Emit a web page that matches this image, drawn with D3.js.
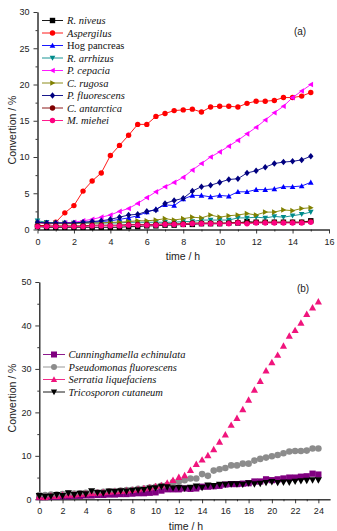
<!DOCTYPE html>
<html><head><meta charset="utf-8">
<script src="https://cdn.jsdelivr.net/npm/d3@7"></script>
<style>body{margin:0;background:#fff}svg{display:block}</style>
</head><body>
<script>
// ---------- DATA ----------
const timeA = [0,0.5,1,1.5,2,2.5,3,3.5,4,4.5,5,5.5,6,6.5,7,7.5,8,8.5,9,9.5,10,10.5,11,11.5,12,12.5,13,13.5,14,14.5,15];
const seriesNamesA = ["R. niveus","Aspergilus","Hog pancreas","R. arrhizus","P. cepacia","C. rugosa","P. fluorescens","C. antarctica","M. miehei"];
const rNiveus     = [0.4,0.3,0.3,0.3,0.3,0.3,0.3,0.3,0.3,0.3,0.4,0.4,0.5,0.5,0.6,0.6,0.7,0.7,0.8,0.8,0.8,0.9,0.9,1.1,1.0,1.0,1.0,1.0,1.0,1.0,1.2];
const aspergilus  = [0.5,0.6,1.0,2.3,3.3,5.3,6.7,7.8,10.2,11.6,13.0,14.5,14.5,15.6,16.0,16.4,16.5,16.6,16.2,16.9,17.0,17.0,16.9,17.4,17.7,17.7,17.8,18.2,18.2,18.4,18.9];
const hogPancreas = [1.0,0.9,0.9,0.9,0.9,1.0,1.0,1.1,1.2,1.4,1.6,1.9,2.4,2.8,3.4,3.3,4.2,4.7,4.7,4.5,4.7,4.6,5.2,5.2,5.5,5.5,5.6,5.9,5.9,6.0,6.5];
const rArrhizus   = [1.2,1.0,0.9,0.9,0.9,0.9,0.9,0.9,0.9,0.9,1.0,1.0,1.0,1.0,1.0,1.0,1.1,1.1,1.3,1.3,1.3,1.3,1.6,1.6,1.7,1.6,1.8,1.7,1.9,2.1,2.4];
const pCepacia    = [0.9,0.8,0.8,0.9,1.0,1.2,1.4,1.7,2.0,2.5,2.9,3.6,4.4,5.2,5.9,6.5,7.2,8.2,9.1,10.0,10.7,11.5,12.3,13.2,14.1,15.1,16.1,17.0,18.2,19.1,20.0];
const cRugosa     = [0.9,0.9,0.8,0.8,0.8,0.9,0.9,0.9,1.0,1.0,1.1,1.2,1.2,1.3,1.5,1.3,1.5,1.7,1.6,2.0,1.7,1.9,2.0,2.2,2.0,2.4,2.4,2.7,2.6,2.9,3.0];
const pFluorescA  = [1.0,0.9,0.9,0.9,0.9,1.0,1.1,1.2,1.4,1.7,2.0,2.1,2.5,2.7,3.6,4.0,4.3,5.3,5.9,6.1,6.5,6.9,7.0,7.8,8.1,8.6,9.1,9.3,9.4,9.6,10.1];
const cAntarctica = [0.5,0.5,0.5,0.5,0.5,0.5,0.6,0.6,0.6,0.6,0.7,0.7,0.7,0.7,0.8,0.8,0.8,0.9,0.9,0.9,0.9,0.9,1.0,0.9,1.0,1.0,1.0,1.0,1.0,1.0,1.1];
const mMiehei     = [0.4,0.4,0.4,0.4,0.4,0.4,0.5,0.5,0.5,0.5,0.6,0.6,0.6,0.6,0.7,0.7,0.7,0.8,0.8,0.8,0.8,0.8,0.9,0.8,0.9,0.9,0.9,0.9,0.9,0.9,1.0];
const xTicksA = [0,2,4,6,8,10,12,14,16];
const yTicksA = [0,5,10,15,20,25,30];

const timeB = [0,0.5,1,1.5,2,2.5,3,3.5,4,4.5,5,5.5,6,6.5,7,7.5,8,8.5,9,9.5,10,10.5,11,11.5,12,12.5,13,13.5,14,14.5,15,15.5,16,16.5,17,17.5,18,18.5,19,19.5,20,20.5,21,21.5,22,22.5,23,23.5,24];
const seriesNamesB = ["Cunninghamella echinulata","Pseudomonas fluorescens","Serratia liquefaciens","Tricosporon cutaneum"];
const cunninghamella = [0.5,0.5,0.6,0.6,0.7,0.7,0.8,0.8,0.9,0.9,1.0,1.0,1.1,1.1,1.2,1.2,1.3,1.4,1.4,1.5,1.6,2.0,2.3,2.3,2.3,2.5,2.4,2.5,2.9,2.9,3.0,3.1,3.4,3.5,3.5,3.6,3.7,4.1,4.1,4.6,4.4,4.6,4.8,5.0,5.0,5.2,5.3,5.9,5.7];
const pseudomonas    = [1.0,1.0,1.1,1.1,1.2,1.3,1.3,1.4,1.5,1.6,1.6,1.7,1.8,1.9,2.0,2.1,2.2,2.4,2.5,2.7,2.9,3.1,3.3,3.9,4.1,4.4,4.8,4.8,5.8,5.4,6.6,6.9,7.2,7.8,7.8,8.2,8.2,8.9,9.3,9.6,9.9,10.2,10.6,11.0,11.1,11.1,11.2,11.7,11.7];
const serratia       = [0.6,0.5,0.8,0.7,1.0,1.0,1.1,1.2,1.3,1.4,1.5,1.6,1.7,1.8,1.9,2.0,2.1,2.3,2.5,2.7,3.0,3.2,3.8,4.4,5.1,5.5,6.7,8.1,9.1,10.1,11.5,13.2,14.9,17.1,18.7,20.7,22.9,25.2,27.2,29.6,31.5,33.2,35.3,37.6,38.9,40.6,42.6,44.1,45.5];
const tricosporon    = [0.8,0.6,0.7,1.0,0.8,1.4,1.0,1.3,1.2,1.9,1.5,1.4,1.8,1.7,1.9,1.8,2.0,2.1,2.2,2.5,2.6,2.9,2.8,2.6,2.7,2.5,2.7,3.0,2.7,3.2,3.1,3.4,3.4,3.5,3.5,3.4,3.7,3.5,3.6,3.8,4.0,3.8,3.9,3.9,4.1,4.2,4.3,4.4,4.4];
const xTicksB = [0,2,4,6,8,10,12,14,16,18,20,22,24];
const yTicksB = [0,10,20,30,40,50];

// ---------- DRAW ----------
const W = 337, H = 531;
const svg = d3.select("body").append("svg").attr("width", W).attr("height", H);
const sans = "Liberation Sans, Arial, sans-serif";
const serif = "Liberation Serif, Times New Roman, serif";

function marker(g, shape, x, y, s, color) {
  let p;
  const r = s / 2;
  if (shape === "square") p = g.append("rect").attr("x", x - r).attr("y", y - r).attr("width", s).attr("height", s);
  else if (shape === "circle") p = g.append("circle").attr("cx", x).attr("cy", y).attr("r", r);
  else {
    let pts;
    const h = r * 1.05;
    if (shape === "up") pts = [[x, y - h], [x + h, y + h * 0.8], [x - h, y + h * 0.8]];
    else if (shape === "down") pts = [[x, y + h], [x + h, y - h * 0.8], [x - h, y - h * 0.8]];
    else if (shape === "left") pts = [[x - h, y], [x + h * 0.8, y - h], [x + h * 0.8, y + h]];
    else if (shape === "right") pts = [[x + h, y], [x - h * 0.8, y - h], [x - h * 0.8, y + h]];
    else if (shape === "diamond") pts = [[x, y - h * 1.15], [x + h * 0.95, y], [x, y + h * 1.15], [x - h * 0.95, y]];
    p = g.append("polygon").attr("points", pts.map(d => d.join(",")).join(" "));
  }
  p.attr("fill", color);
}

function axes(g, x, y, xTicks, yTicks, xMinor, yMinor) {
  const xa = g.append("g").attr("transform", `translate(0,${y.range()[0]})`)
    .call(d3.axisBottom(x).tickValues(xTicks).tickSize(4).tickSizeOuter(0).tickFormat(d3.format("d")));
  const xm = g.append("g").attr("transform", `translate(0,${y.range()[0]})`)
    .call(d3.axisBottom(x).tickValues(xMinor).tickSize(2).tickSizeOuter(0).tickFormat(""));
  const ya = g.append("g").attr("transform", `translate(${x.range()[0]},0)`)
    .call(d3.axisLeft(y).tickValues(yTicks).tickSize(4).tickSizeOuter(0).tickFormat(d3.format("d")));
  const ym = g.append("g").attr("transform", `translate(${x.range()[0]},0)`)
    .call(d3.axisLeft(y).tickValues(yMinor).tickSize(2).tickSizeOuter(0).tickFormat(""));
  [xa, xm, ya, ym].forEach(a => {
    a.selectAll("path,line").attr("stroke", "#222").attr("stroke-width", 0.9);
    a.selectAll("text").attr("font-family", sans).attr("font-size", 9).attr("fill", "#222");
  });
  xa.selectAll("text").attr("dy", "0.9em");
  ya.selectAll("text").attr("dx", "-0.1em");
}

// ---------- Chart (a) ----------
const xA = d3.scaleLinear().domain([0, 16]).range([37.5, 329]);
const yA = d3.scaleLinear().domain([0, 30]).range([229.5, 12]);
const gA = svg.append("g");
axes(gA, xA, yA, xTicksA, yTicksA, [1,3,5,7,9,11,13,15], [2.5,7.5,12.5,17.5,22.5,27.5]);

const seriesA = [
  {name: seriesNamesA[0], v: rNiveus, color: "#000000", shape: "square"},
  {name: seriesNamesA[1], v: aspergilus, color: "#ff0000", shape: "circle"},
  {name: seriesNamesA[2], v: hogPancreas, color: "#0000ff", shape: "up"},
  {name: seriesNamesA[3], v: rArrhizus, color: "#008b8b", shape: "down"},
  {name: seriesNamesA[4], v: pCepacia, color: "#ff00ff", shape: "left"},
  {name: seriesNamesA[5], v: cRugosa, color: "#808000", shape: "right"},
  {name: seriesNamesA[6], v: pFluorescA, color: "#000080", shape: "diamond"},
  {name: seriesNamesA[7], v: cAntarctica, color: "#800000", shape: "circle"},
  {name: seriesNamesA[8], v: mMiehei, color: "#ff0080", shape: "circle"}
];
const lineA = d3.line().x((d, i) => xA(timeA[i])).y(d => yA(d));
seriesA.forEach(s => {
  const g = gA.append("g");
  g.append("path").datum(s.v).attr("d", lineA).attr("fill", "none").attr("stroke", s.color).attr("stroke-width", 0.9);
  s.v.forEach((d, i) => marker(g, s.shape, xA(timeA[i]), yA(d), 5.4, s.color));
});
// legend (a)
seriesA.forEach((s, i) => {
  const y = 20.5 + i * 12.5;
  const g = gA.append("g");
  g.append("line").attr("x1", 42).attr("x2", 63).attr("y1", y).attr("y2", y).attr("stroke", s.color).attr("stroke-width", 0.9);
  marker(g, s.shape, 52.5, y, 5.4, s.color);
  g.append("text").attr("x", 67).attr("y", y + 3.5).attr("font-family", serif).attr("font-size", 10.5)
    .attr("font-style", s.name === "Hog pancreas" ? "normal" : "italic").attr("fill", "#111").text(s.name);
});
gA.append("text").attr("x", 300).attr("y", 35).attr("text-anchor", "middle").attr("font-family", sans).attr("font-size", 10).attr("fill", "#222").text("(a)");
gA.append("text").attr("x", 183).attr("y", 260).attr("text-anchor", "middle").attr("font-family", sans).attr("font-size", 10.5).attr("fill", "#222").text("time / h");
gA.append("text").attr("transform", "translate(16,130) rotate(-90)").attr("text-anchor", "middle").attr("font-family", sans).attr("font-size", 10.5).attr("fill", "#222").text("Convertion / %");

// ---------- Chart (b) ----------
const xB = d3.scaleLinear().domain([0, 25]).range([39.3, 330]);
const yB = d3.scaleLinear().domain([0, 50]).range([499.3, 282]);
const gB = svg.append("g");
axes(gB, xB, yB, xTicksB, yTicksB, [1,3,5,7,9,11,13,15,17,19,21,23], [5,15,25,35,45]);

const seriesB = [
  {name: seriesNamesB[0], v: cunninghamella, color: "#800080", shape: "square", size: 6.2},
  {name: seriesNamesB[1], v: pseudomonas, color: "#8c8c8c", shape: "circle", size: 6.6},
  {name: seriesNamesB[2], v: serratia, color: "#f0147c", shape: "up", size: 6.8},
  {name: seriesNamesB[3], v: tricosporon, color: "#000000", shape: "down", size: 6.8}
];
seriesB.forEach(s => {
  const g = gB.append("g");
  s.v.forEach((d, i) => marker(g, s.shape, xB(timeB[i]), yB(d), s.size, s.color));
});
seriesB.forEach((s, i) => {
  const y = 354.5 + i * 12.5;
  const g = gB.append("g");
  g.append("line").attr("x1", 43).attr("x2", 65).attr("y1", y).attr("y2", y).attr("stroke", s.color).attr("stroke-width", 0.9);
  marker(g, s.shape, 54, y, 6, s.color);
  g.append("text").attr("x", 68.5).attr("y", y + 3.5).attr("font-family", serif).attr("font-size", 10.5)
    .attr("font-style", "italic").attr("fill", "#111").text(s.name);
});
gB.append("text").attr("x", 303).attr("y", 292).attr("text-anchor", "middle").attr("font-family", sans).attr("font-size", 10).attr("fill", "#222").text("(b)");
gB.append("text").attr("x", 186).attr("y", 530).attr("text-anchor", "middle").attr("font-family", sans).attr("font-size", 10.5).attr("fill", "#222").text("time / h");
gB.append("text").attr("transform", "translate(16,398) rotate(-90)").attr("text-anchor", "middle").attr("font-family", sans).attr("font-size", 10.5).attr("fill", "#222").text("Convertion / %");
</script>
</body></html>
